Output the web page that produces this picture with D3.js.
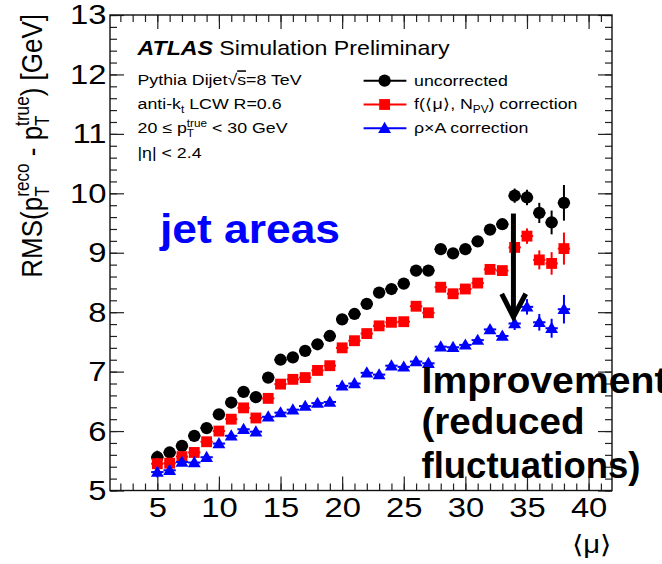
<!DOCTYPE html>
<html>
<head>
<meta charset="utf-8">
<script src="https://cdn.jsdelivr.net/npm/d3@7"></script>
<style>
  body { margin: 0; background: #fff; }
  svg { display: block; }
  text { font-family: "Liberation Sans", Arial, Helvetica, sans-serif; }
</style>
</head>
<body>
<svg id="chart" width="662" height="564"></svg>
<script>
// Average number of interactions per bunch crossing
const mu = [5, 6, 7, 8, 9, 10, 11, 12, 13, 14, 15, 16, 17, 18, 19, 20, 21,
            22, 23, 24, 25, 26, 27, 28, 29, 30, 31, 32, 33, 34, 35, 36, 37, 38];

// RMS(pT reco - pT true) [GeV], uncorrected
const uncorrected = [5.56, 5.64, 5.75, 5.92, 6.05, 6.28, 6.48, 6.66, 6.57, 6.90, 7.20, 7.24,
                     7.35, 7.46, 7.60, 7.88, 7.97, 8.14, 8.33, 8.39, 8.48, 8.70, 8.70, 9.06,
                     8.99, 9.06, 9.19, 9.39, 9.48, 9.96, 9.93, 9.67, 9.51, 9.84];
const uncorrectedErr = [0.11, 0.09, 0.08, 0.08, 0.07, 0.06, 0.05, 0.05, 0.05, 0.04, 0.04, 0.04,
                        0.04, 0.04, 0.04, 0.04, 0.04, 0.04, 0.04, 0.04, 0.04, 0.04, 0.04, 0.04,
                        0.04, 0.05, 0.05, 0.06, 0.07, 0.12, 0.13, 0.17, 0.20, 0.30];

// f(<mu>, NPV) correction
const fCorrection = [5.45, 5.46, 5.57, 5.64, 5.82, 6.00, 6.20, 6.39, 6.22, 6.55, 6.79, 6.87,
                     6.90, 7.02, 7.10, 7.40, 7.52, 7.64, 7.77, 7.83, 7.84, 8.10, 7.99, 8.42,
                     8.31, 8.39, 8.49, 8.72, 8.70, 9.09, 9.28, 8.88, 8.82, 9.07];
const fCorrectionErr = [0.10, 0.09, 0.08, 0.07, 0.06, 0.05, 0.05, 0.04, 0.04, 0.04, 0.04, 0.04,
                        0.04, 0.04, 0.04, 0.04, 0.04, 0.04, 0.04, 0.04, 0.04, 0.04, 0.04, 0.04,
                        0.04, 0.05, 0.05, 0.06, 0.07, 0.10, 0.13, 0.16, 0.19, 0.27];

// rho x A correction (jet areas)
const rhoACorrection = [5.31, 5.34, 5.48, 5.47, 5.56, 5.79, 5.92, 6.03, 5.99, 6.24, 6.31, 6.36,
                        6.42, 6.47, 6.49, 6.76, 6.80, 6.98, 6.95, 7.10, 7.08, 7.17, 7.14, 7.42,
                        7.41, 7.45, 7.53, 7.71, 7.60, 7.81, 8.09, 7.83, 7.73, 8.05];
const rhoACorrectionErr = [0.09, 0.08, 0.07, 0.07, 0.06, 0.05, 0.05, 0.04, 0.04, 0.04, 0.04, 0.04,
                           0.04, 0.04, 0.04, 0.04, 0.04, 0.04, 0.04, 0.04, 0.04, 0.04, 0.04, 0.04,
                           0.04, 0.05, 0.05, 0.06, 0.07, 0.11, 0.13, 0.14, 0.16, 0.24];

const xTicks = [5, 10, 15, 20, 25, 30, 35, 40];
const yTicks = [5, 6, 7, 8, 9, 10, 11, 12, 13];
const xMinorTicks = d3.range(2, 42);
const yMinorTicks = d3.range(25, 66).map(d => d / 5);

const series = [
  { name: "uncorrected", values: uncorrected, errors: uncorrectedErr, color: "#000000", shape: "circle" },
  { name: "f", values: fCorrection, errors: fCorrectionErr, color: "#ff0000", shape: "square" },
  { name: "rhoA", values: rhoACorrection, errors: rhoACorrectionErr, color: "#0000ff", shape: "triangle" }
];

const svg = d3.select("#chart");
const frame = { left: 110, right: 612, top: 15, bottom: 490.5 };
const SX = 1.17; // horizontal stretch applied to all text

const x = d3.scaleLinear().domain([1.16, 41.9]).range([frame.left, frame.right]);
const y = d3.scaleLinear().domain([5, 13]).range([frame.bottom, frame.top]);

// ---- axes: inward ticks on all four sides ----
function styleAxis(g) {
  g.select(".domain").remove();
  g.selectAll(".tick line").attr("stroke", "#222").attr("stroke-width", 1.2);
}
const tickLabelSize = 28;

svg.append("g").attr("transform", `translate(0,${frame.bottom})`)
  .call(d3.axisBottom(x).tickValues(xMinorTicks).tickSize(-7).tickFormat(""))
  .call(styleAxis);
const xAxisG = svg.append("g").attr("transform", `translate(0,${frame.bottom})`)
  .call(d3.axisBottom(x).tickValues(xTicks).tickSize(-14).tickPadding(7).tickFormat(d3.format("d")))
  .call(styleAxis);
xAxisG.selectAll("text").attr("font-size", tickLabelSize)
  .attr("font-family", "Liberation Sans, Arial, sans-serif").attr("fill", "#000")
  .attr("transform", `scale(${SX},1)`);

svg.append("g").attr("transform", `translate(0,${frame.top})`)
  .call(d3.axisTop(x).tickValues(xMinorTicks).tickSize(-7).tickFormat(""))
  .call(styleAxis);
svg.append("g").attr("transform", `translate(0,${frame.top})`)
  .call(d3.axisTop(x).tickValues(xTicks).tickSize(-14).tickFormat(""))
  .call(styleAxis);

svg.append("g").attr("transform", `translate(${frame.left},0)`)
  .call(d3.axisLeft(y).tickValues(yMinorTicks).tickSize(-7).tickFormat(""))
  .call(styleAxis);
const yAxisG = svg.append("g").attr("transform", `translate(${frame.left},0)`)
  .call(d3.axisLeft(y).tickValues(yTicks).tickSize(-14).tickPadding(3.5 / SX).tickFormat(d3.format("d")))
  .call(styleAxis);
yAxisG.selectAll("text").attr("font-size", tickLabelSize)
  .attr("font-family", "Liberation Sans, Arial, sans-serif").attr("fill", "#000")
  .attr("transform", `scale(${SX},1)`);

svg.append("g").attr("transform", `translate(${frame.right},0)`)
  .call(d3.axisRight(y).tickValues(yMinorTicks).tickSize(-7).tickFormat(""))
  .call(styleAxis);
svg.append("g").attr("transform", `translate(${frame.right},0)`)
  .call(d3.axisRight(y).tickValues(yTicks).tickSize(-14).tickFormat(""))
  .call(styleAxis);

svg.append("rect")
  .attr("x", frame.left).attr("y", frame.top)
  .attr("width", frame.right - frame.left).attr("height", frame.bottom - frame.top)
  .attr("fill", "none").attr("stroke", "#111").attr("stroke-width", 1.4);

// ---- rich text with sub/superscripts ----
function rich(textSel, parts, size) {
  const small = size * 0.66;
  let cur = 0;       // current baseline offset (positive = down)
  let pendingDx = 0;
  parts.forEach(p => {
    if (typeof p === "string") {
      textSel.append("tspan").attr("font-size", size)
        .attr("dy", -cur).attr("dx", pendingDx).text(p);
      cur = 0; pendingDx = 0;
      return;
    }
    let supW = 0, subW = 0;
    if (p.sup) {
      const target = -size * 0.42;
      const t = textSel.append("tspan").attr("font-size", small)
        .attr("dy", target - cur).attr("dx", pendingDx).text(p.sup);
      cur = target; pendingDx = 0;
      supW = t.node().getComputedTextLength();
    }
    if (p.sub) {
      const target = size * 0.25;
      const t = textSel.append("tspan").attr("font-size", small)
        .attr("dy", target - cur).attr("dx", p.sup ? -supW : pendingDx).text(p.sub);
      cur = target; pendingDx = 0;
      subW = t.node().getComputedTextLength();
    }
    if (p.sup && p.sub && supW > subW) pendingDx = supW - subW;
  });
}

// horizontal text block, stretched by SX around its anchor point
function textAt(px, py) {
  return svg.append("g").attr("transform", `translate(${px},${py}) scale(${SX},1)`)
    .append("text").attr("x", 0).attr("y", 0).attr("fill", "#000");
}

// ---- y axis title ----
const yTitle = svg.append("text")
  .attr("transform", `translate(41.5,14) rotate(-90) scale(1,${SX - 0.02})`)
  .attr("text-anchor", "end").attr("fill", "#000");
rich(yTitle, ["RMS(p", { sup: "reco", sub: "T" }, " - p", { sup: "true", sub: "T" }, ") [GeV]"], 26);

// ---- x axis title ----
textAt(frame.right, 553).attr("text-anchor", "end").attr("font-size", 25)
  .text("\u27E8\u03BC\u27E9");

// ---- data: error bars and markers ----
const symbolType = { circle: d3.symbolCircle, square: d3.symbolSquare, triangle: d3.symbolTriangle };
const symbolArea = { circle: 118, square: 118, triangle: 72 };
const plot = svg.append("g");
series.forEach(s => {
  const g = plot.append("g");
  const pts = mu.map((m, i) => ({ m, v: s.values[i], e: s.errors[i] }));
  g.selectAll("line.ev").data(pts).join("line")
    .attr("x1", d => x(d.m)).attr("x2", d => x(d.m))
    .attr("y1", d => y(d.v - d.e)).attr("y2", d => y(d.v + d.e))
    .attr("stroke", s.color).attr("stroke-width", 2);
  g.selectAll("line.eh").data(pts).join("line")
    .attr("x1", d => x(d.m - 0.5)).attr("x2", d => x(d.m + 0.5))
    .attr("y1", d => y(d.v)).attr("y2", d => y(d.v))
    .attr("stroke", s.color).attr("stroke-width", 2);
  g.selectAll("path.m").data(pts).join("path")
    .attr("transform", d => `translate(${x(d.m)},${y(d.v) + (s.shape === "triangle" ? 1 : 0)})`)
    .attr("d", d3.symbol().type(symbolType[s.shape]).size(symbolArea[s.shape]))
    .attr("fill", s.color);
});

// ---- header text ----
const header = textAt(137.5, 55).attr("font-size", 19.8);
header.append("tspan").attr("font-weight", "bold").attr("font-style", "italic").text("ATLAS");
header.append("tspan").text(" Simulation Preliminary");

const infoSize = 15.2;
const info1 = textAt(137.5, 85).attr("font-size", infoSize);
info1.append("tspan").text("Pythia Dijet\u221A");
info1.append("tspan").style("text-decoration", "overline").text("s");
info1.append("tspan").text("=8 TeV");

rich(textAt(137.5, 109.3), ["anti-k", { sub: "t" }, " LCW R=0.6"], infoSize);
rich(textAt(137.5, 133.3), ["20 \u2264 p", { sup: "true", sub: "T" }, " < 30 GeV"], infoSize);
textAt(137.5, 157.5).attr("font-size", infoSize).text("|\u03B7| < 2.4");

// ---- legend ----
const legendRows = [80.7, 104.5, 128.3];
const legendLabels = [
  ["uncorrected"],
  ["f(\u27E8\u03BC\u27E9, N", { sub: "PV" }, ") correction"],
  ["\u03C1\u00D7A correction"]
];
series.forEach((s, i) => {
  const ly = legendRows[i];
  svg.append("line").attr("x1", 363.6).attr("x2", 406.4).attr("y1", ly).attr("y2", ly)
    .attr("stroke", s.color).attr("stroke-width", 2);
  svg.append("path").attr("transform", `translate(384.6,${ly + (s.shape === "triangle" ? 1 : 0)})`)
    .attr("d", d3.symbol().type(symbolType[s.shape]).size(symbolArea[s.shape])).attr("fill", s.color);
  rich(textAt(414, ly + 4.8), legendLabels[i], infoSize);
});

// ---- annotations ----
svg.append("text").attr("x", 160).attr("y", 242.7)
  .attr("font-family", "Open Sans, DejaVu Sans, sans-serif").attr("font-weight", 700)
  .attr("font-size", 40).attr("fill", "#0000ff")
  .attr("textLength", 180).attr("lengthAdjust", "spacingAndGlyphs")
  .text("jet areas");

// arrow showing the reduction from uncorrected to rho x A corrected
const arrow = d3.line().x(d => x(d[0])).y(d => y(d[1]));
svg.append("path").attr("d", arrow([[33.9, 9.66], [33.9, 7.98]]))
  .attr("stroke", "#000").attr("stroke-width", 5).attr("fill", "none");
svg.append("path").attr("d", arrow([[32.95, 8.31], [33.9, 7.92], [34.9, 8.31]]))
  .attr("stroke", "#000").attr("stroke-width", 5).attr("fill", "none").attr("stroke-linejoin", "miter");

const noteLines = [
  { t: "Improvement", y: 393, w: 246 },
  { t: "(reduced", y: 434, w: 163 },
  { t: "fluctuations)", y: 478, w: 219 }
];
noteLines.forEach(l => {
  svg.append("text").attr("x", 421.5).attr("y", l.y)
    .attr("font-family", "Open Sans, DejaVu Sans, sans-serif").attr("font-weight", 700)
    .attr("font-size", 37).attr("fill", "#000")
    .attr("textLength", l.w).attr("lengthAdjust", "spacingAndGlyphs")
    .text(l.t);
});
</script>
</body>
</html>
